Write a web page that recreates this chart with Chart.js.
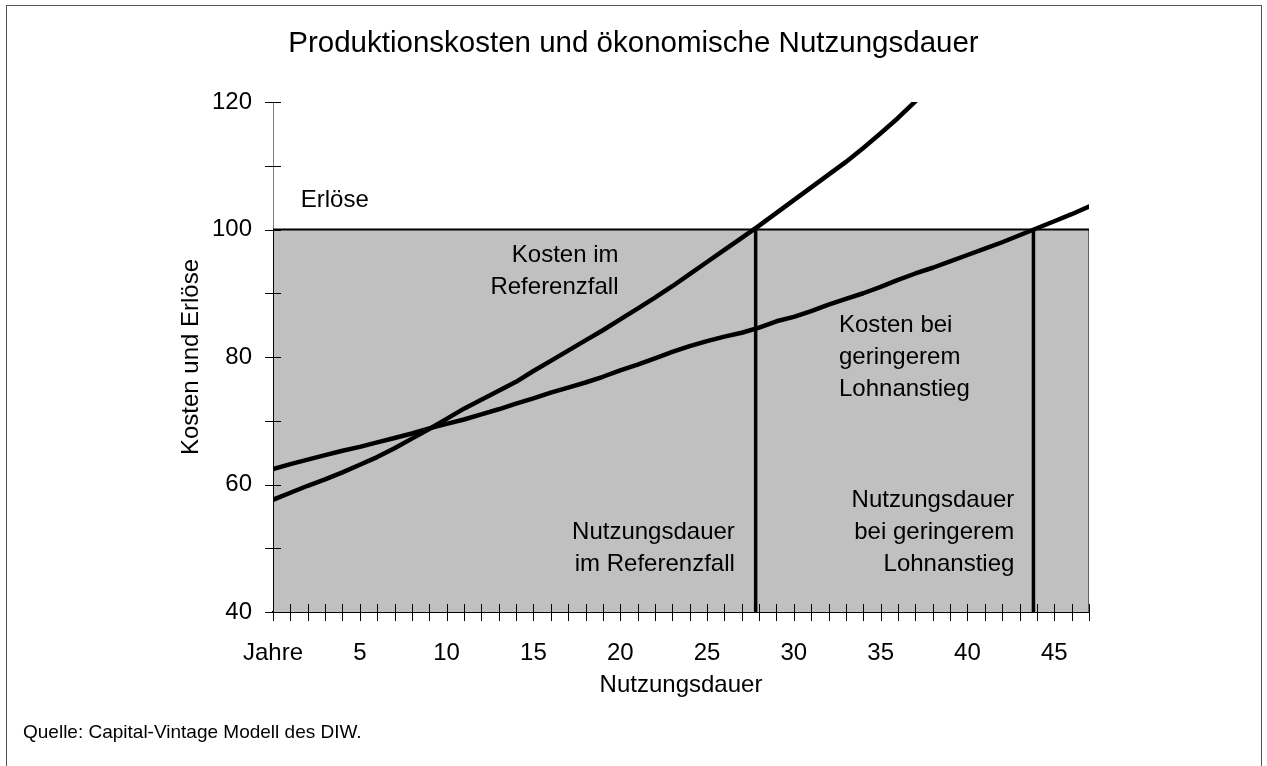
<!DOCTYPE html>
<html>
<head>
<meta charset="utf-8">
<script src="https://cdn.jsdelivr.net/npm/chart.js@4.4.1/dist/chart.umd.min.js"></script>
<style>
  body { margin: 0; background: #fff; }
  #wrap { position: relative; width: 1267px; height: 766px; overflow: hidden; font-family: "Liberation Sans", Arial, sans-serif; color: #000; }
  #frame { position: absolute; left: 6px; top: 5px; width: 1254px; height: 800px; border: 1px solid #555; }
  #title { position: absolute; left: 0; width: 1267px; top: 26px; line-height: 32px; text-align: center; font-size: 29.5px; }
  #source { position: absolute; left: 23px; top: 721px; line-height: 22px; font-size: 19px; }
  canvas { position: absolute; left: 0; top: 0; }
</style>
</head>
<body>
<div id="wrap">
  <div id="frame"></div>
  <canvas id="chart" width="1267" height="766"></canvas>
  <div id="title">Produktionskosten und ökonomische Nutzungsdauer</div>
  <div id="source">Quelle: Capital-Vintage Modell des DIW.</div>
</div>
<script>
// Nutzungsdauer in Jahren
const jahre = [0, 1, 2, 3, 4, 5, 6, 7, 8, 9, 10, 11, 12, 13, 14, 15, 16, 17, 18, 19, 20, 21, 22, 23,
  24, 25, 26, 27, 28, 29, 30, 31, 32, 33, 34, 35, 36, 37, 38, 39, 40, 41, 42, 43, 44, 45, 46, 47];

// Kosten im Referenzfall (läuft oben aus dem Bild)
const kostenReferenz = [57.6, 58.7, 59.8, 60.8, 61.9, 63.1, 64.3, 65.7, 67.2, 68.7, 70.3, 71.9,
  73.3, 74.7, 76.1, 77.8, 79.4, 81.0, 82.6, 84.2, 85.9, 87.6, 89.3, 91.1, 93.0, 94.9, 96.8, 98.7,
  100.6, 102.6, 104.6, 106.6, 108.6, 110.6, 112.8, 115.1, 117.5, 120.1, 122.8];

// Kosten bei geringerem Lohnanstieg
const kostenLohn = [62.4, 63.2, 63.9, 64.6, 65.3, 65.9, 66.6, 67.3, 68.0, 68.8, 69.5, 70.2,
  71.0, 71.8, 72.7, 73.5, 74.4, 75.2, 76.0, 76.9, 77.9, 78.8, 79.8, 80.8, 81.7, 82.5, 83.2, 83.8,
  84.6, 85.6, 86.3, 87.2, 88.2, 89.1, 90.0, 91.0, 92.1, 93.1, 94.0, 95.0, 96.0, 97.0, 98.0, 99.1,
  100.2, 101.3, 102.4, 103.6];

const erloese = 100;
const nutzungsdauer = [27.8, 43.8]; // Referenzfall, geringerer Lohnanstieg
const yMin = 40, yMax = 120;

const FONT = '"Liberation Sans", Arial, sans-serif';

// Beschriftungen im Diagramm (Datenkoordinaten)
const notes = [
  { lines: ['Erlöse'], x: 1.6, y: 104.6, align: 'left' },
  { lines: ['Kosten im', 'Referenzfall'], x: 19.9, y: 96, align: 'right' },
  { lines: ['Kosten bei', 'geringerem', 'Lohnanstieg'], x: 32.6, y: 85, align: 'left' },
  { lines: ['Nutzungsdauer', 'im Referenzfall'], x: 26.6, y: 52.5, align: 'right' },
  { lines: ['Nutzungsdauer', 'bei geringerem', 'Lohnanstieg'], x: 42.7, y: 57.5, align: 'right' }
];

const pts = (xs, ys) => ys.map((v, i) => ({ x: xs[i], y: v }));

const decor = {
  id: 'decor',
  afterDatasetsDraw(chart) {
    const { ctx, scales: { x, y } } = chart;
    ctx.save();
    ctx.strokeStyle = '#000';
    ctx.lineWidth = 1;
    const y0 = y.getPixelForValue(yMin);
    jahre.forEach(j => {
      const px = Math.round(x.getPixelForValue(j)) + 0.5;
      ctx.beginPath();
      ctx.moveTo(px, y0 - 8);
      ctx.lineTo(px, y0 + 9);
      ctx.stroke();
    });
    const x0 = x.getPixelForValue(0);
    for (let v = yMin; v <= yMax; v += 10) {
      const py = Math.round(y.getPixelForValue(v)) + 0.5;
      ctx.beginPath();
      ctx.moveTo(x0 - 8, py);
      ctx.lineTo(x0 + 8, py);
      ctx.stroke();
    }

    ctx.fillStyle = '#000';
    ctx.font = '24px ' + FONT;
    ctx.textBaseline = 'middle';
    notes.forEach(n => {
      ctx.textAlign = n.align;
      n.lines.forEach((t, k) => {
        ctx.fillText(t, x.getPixelForValue(n.x), y.getPixelForValue(n.y - 5 * k));
      });
    });
    ctx.restore();
  }
};

const lineStyle = { pointRadius: 0, tension: 0, fill: false, borderColor: '#000', borderCapStyle: 'round', borderJoinStyle: 'round' };

new Chart(document.getElementById('chart'), {
  type: 'line',
  data: {
    datasets: [
      { ...lineStyle, label: 'Kosten im Referenzfall', data: pts(jahre, kostenReferenz), borderWidth: 4.5, order: 1 },
      { ...lineStyle, label: 'Kosten bei geringerem Lohnanstieg', data: pts(jahre, kostenLohn), borderWidth: 4.5, order: 1 },
      { ...lineStyle, label: 'Nutzungsdauer Referenz', data: [{ x: nutzungsdauer[0], y: yMin }, { x: nutzungsdauer[0], y: erloese }], borderWidth: 3.5, borderCapStyle: 'butt', order: 2 },
      { ...lineStyle, label: 'Nutzungsdauer Lohn', data: [{ x: nutzungsdauer[1], y: yMin }, { x: nutzungsdauer[1], y: erloese }], borderWidth: 3.5, borderCapStyle: 'butt', order: 2 },
      { ...lineStyle, label: 'Erlöse', data: [{ x: 0, y: yMin }, { x: 0, y: erloese }, { x: 47, y: erloese }], borderWidth: 2, borderCapStyle: 'butt', borderJoinStyle: 'miter', order: 3 },
      { ...lineStyle, label: 'Rand', data: [{ x: 47, y: erloese }, { x: 47, y: yMin }], borderWidth: 1, borderColor: '#555', borderCapStyle: 'butt', order: 3 },
      { ...lineStyle, label: 'Fläche', data: [{ x: 0, y: yMin }, { x: 0, y: erloese }, { x: 47, y: erloese }, { x: 47, y: yMin }], borderWidth: 0, fill: 'start', backgroundColor: '#c0c0c0', order: 4 }
    ]
  },
  options: {
    responsive: false,
    animation: false,
    devicePixelRatio: 1,
    layout: { padding: { left: 0, top: 102, right: 178, bottom: 0 } },
    plugins: { legend: { display: false }, tooltip: { enabled: false } },
    scales: {
      x: {
        type: 'linear', min: 0, max: 47,
        grid: { display: false, drawTicks: false, tickLength: 0 },
        border: { display: true, color: '#000', width: 2 },
        ticks: {
          stepSize: 1, autoSkip: false, maxRotation: 0, padding: 27, color: '#000',
          font: { family: FONT, size: 24 },
          callback: v => v === 0 ? 'Jahre' : (v % 5 === 0 ? String(v) : '')
        },
        title: { display: true, text: 'Nutzungsdauer', color: '#000', font: { family: FONT, size: 24 }, padding: { bottom: 66 } },
        afterFit: s => { s.height = 154; }
      },
      y: {
        min: yMin, max: yMax,
        grid: { display: false, drawTicks: false, tickLength: 0 },
        border: { display: true, color: '#808080', width: 1 },
        ticks: {
          stepSize: 10, padding: 21, color: '#000',
          font: { family: FONT, size: 24 },
          callback: v => v % 20 === 0 ? String(v) : ''
        },
        title: { display: true, text: 'Kosten und Erlöse', color: '#000', font: { family: FONT, size: 24 }, padding: { top: 177 } },
        afterFit: s => { s.width = 273; }
      }
    }
  },
  plugins: [decor]
});
</script>
</body>
</html>
